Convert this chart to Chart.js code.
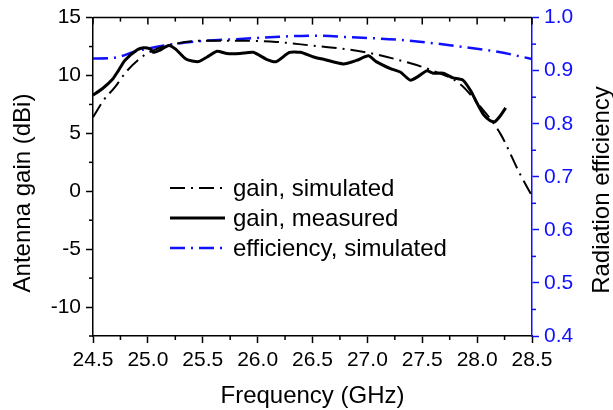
<!DOCTYPE html>
<html>
<head>
<meta charset="utf-8">
<script src="https://cdn.jsdelivr.net/npm/chart.js@4.4.0/dist/chart.umd.min.js"></script>
<style>
html, body { margin: 0; padding: 0; background: #fff; }
#wrap { width: 613px; height: 410px; }
</style>
</head>
<body>
<div id="wrap"><canvas id="graphCanvas"></canvas></div>
<script>
// gain, simulated (dBi)
var simFreq = [24.50, 24.60, 24.70, 24.81, 24.96, 25.08, 25.23, 25.50, 25.87, 26.17, 26.48, 26.69, 26.99, 27.30, 27.60, 27.84, 28.03, 28.21, 28.39, 28.50];
var simGain = [6.4, 7.9, 9.0, 10.4, 11.7, 12.3, 12.7, 13.0, 13.0, 12.9, 12.6, 12.4, 12.0, 11.3, 10.4, 9.3, 7.3, 5.0, 1.5, -0.4];

// gain, measured (dBi)
var measFreq = [24.50, 24.59, 24.68, 24.73, 24.79, 24.90, 24.96, 25.02, 25.05, 25.11, 25.19, 25.25, 25.35, 25.46, 25.54, 25.63, 25.72, 25.84, 25.96, 26.08, 26.17, 26.29, 26.39, 26.51, 26.60, 26.78, 26.90, 27.01, 27.08, 27.21, 27.30, 27.39, 27.46, 27.54, 27.60, 27.69, 27.78, 27.87, 27.94, 28.00, 28.06, 28.12, 28.16, 28.21, 28.26];
var measGain = [8.3, 8.9, 9.7, 10.4, 11.3, 12.2, 12.4, 12.3, 12.0, 12.2, 12.6, 12.3, 11.4, 11.2, 11.6, 12.1, 11.9, 11.9, 12.0, 11.4, 11.2, 12.0, 12.0, 11.6, 11.4, 11.0, 11.3, 11.7, 11.2, 10.6, 10.3, 9.6, 9.9, 10.4, 10.2, 10.2, 9.8, 9.6, 8.7, 7.6, 6.6, 6.1, 6.0, 6.5, 7.2];

// efficiency, simulated
var effFreq = [24.50, 24.68, 24.90, 25.20, 25.50, 25.87, 26.20, 26.50, 26.85, 27.30, 27.75, 28.20, 28.50];
var effVal = [0.923, 0.924, 0.937, 0.949, 0.956, 0.960, 0.964, 0.966, 0.963, 0.958, 0.948, 0.935, 0.922];

// tick values
var xTicks = [24.5, 25.0, 25.5, 26.0, 26.5, 27.0, 27.5, 28.0, 28.5];
var gainTicks = [-10, -5, 0, 5, 10, 15];
var effTicks = [0.4, 0.5, 0.6, 0.7, 0.8, 0.9, 1.0];

var xTitle = 'Frequency (GHz)';
var yTitle = 'Antenna gain (dBi)';
var y1Title = 'Radiation efficiency';

var BLUE = '#1010ff';
var FONT = "'Liberation Sans', Arial, sans-serif";
var DASHDOT = [15, 6, 2, 6];

function pts(xs, ys) {
    var out = [];
    for (var i = 0; i < xs.length; i++) out.push({ x: xs[i], y: ys[i] });
    return out;
}

function fixTicks(list) {
    return function (scale) {
        scale.ticks = list.map(function (v) { return { value: v }; });
    };
}

// minor ticks, mirrored top ticks, top frame line, axis titles, legend
var decorPlugin = {
    id: 'decor',
    afterDraw: function (chart) {
        var ctx = chart.ctx, a = chart.chartArea;
        var x = chart.scales.x, y = chart.scales.y, y1 = chart.scales.y1;
        ctx.save();
        ctx.lineWidth = 1.5;
        ctx.strokeStyle = '#000';
        ctx.beginPath();
        ctx.moveTo(a.left, a.top);
        ctx.lineTo(a.right, a.top);
        ctx.stroke();

        var i, p, v;
        for (i = 0; i < xTicks.length; i++) {
            p = x.getPixelForValue(xTicks[i]);
            ctx.beginPath(); ctx.moveTo(p, a.top); ctx.lineTo(p, a.top + 7); ctx.stroke();
            if (i < xTicks.length - 1) {
                v = x.getPixelForValue((xTicks[i] + xTicks[i + 1]) / 2);
                ctx.beginPath(); ctx.moveTo(v, a.bottom); ctx.lineTo(v, a.bottom + 4); ctx.stroke();
                ctx.beginPath(); ctx.moveTo(v, a.top); ctx.lineTo(v, a.top + 4); ctx.stroke();
            }
        }
        for (v = -12.5; v <= 15; v += 5) {
            p = y.getPixelForValue(v);
            ctx.beginPath(); ctx.moveTo(a.left, p); ctx.lineTo(a.left - 4, p); ctx.stroke();
        }
        ctx.strokeStyle = BLUE;
        for (i = 0; i < effTicks.length - 1; i++) {
            p = y1.getPixelForValue((effTicks[i] + effTicks[i + 1]) / 2);
            ctx.beginPath(); ctx.moveTo(a.right, p); ctx.lineTo(a.right + 4, p); ctx.stroke();
        }

        // axis titles
        ctx.fillStyle = '#000';
        ctx.font = '24px ' + FONT;
        ctx.textAlign = 'center';
        ctx.textBaseline = 'middle';
        ctx.fillText(xTitle, (a.left + a.right) / 2, 396);

        ctx.save();
        ctx.translate(23, 193);
        ctx.rotate(-Math.PI / 2);
        ctx.fillText(yTitle, 0, 0);
        ctx.restore();

        ctx.save();
        ctx.translate(602, 190);
        ctx.rotate(-Math.PI / 2);
        ctx.fillText(y1Title, 0, 0);
        ctx.restore();
        ctx.restore();

        // legend inside the plot
        ctx.save();
        ctx.font = '24px ' + FONT;
        ctx.textBaseline = 'middle';
        var rowY = [188, 218, 248];
        chart.data.datasets.forEach(function (ds, k) {
            ctx.strokeStyle = ds.borderColor;
            ctx.lineWidth = ds.borderWidth;
            ctx.setLineDash(ds.borderDash || []);
            ctx.beginPath();
            ctx.moveTo(170, rowY[k]);
            ctx.lineTo(225, rowY[k]);
            ctx.stroke();
            ctx.fillStyle = '#000';
            ctx.fillText(ds.label, 233, rowY[k] + 1);
        });
        ctx.restore();
    }
};

var chartdata = {
    datasets: [{
        label: 'gain, simulated',
        data: pts(simFreq, simGain),
        borderColor: '#000',
        borderWidth: 2,
        borderDash: DASHDOT,
        cubicInterpolationMode: 'monotone',
        pointRadius: 0,
        yAxisID: 'y'
    }, {
        label: 'gain, measured',
        data: pts(measFreq, measGain),
        borderColor: '#000',
        borderWidth: 3,
        tension: 0.2,
        pointRadius: 0,
        yAxisID: 'y'
    }, {
        label: 'efficiency, simulated',
        data: pts(effFreq, effVal),
        borderColor: BLUE,
        borderWidth: 2.5,
        borderDash: DASHDOT,
        cubicInterpolationMode: 'monotone',
        pointRadius: 0,
        yAxisID: 'y1'
    }]
};

Chart.defaults.font.family = FONT;
Chart.defaults.color = '#000';

new Chart(document.getElementById('graphCanvas'), {
    type: 'line',
    data: chartdata,
    plugins: [decorPlugin],
    options: {
        responsive: true,
        maintainAspectRatio: false,
        animation: false,
        layout: { padding: { top: 17, left: 0, right: 0, bottom: 0 } },
        plugins: { legend: { display: false }, tooltip: { enabled: false } },
        scales: {
            x: {
                type: 'linear',
                min: 24.5,
                max: 28.5,
                afterBuildTicks: fixTicks(xTicks),
                afterFit: function (s) { s.height = 74; },
                grid: { drawOnChartArea: false, tickLength: 7, tickWidth: 1.5, tickColor: '#000' },
                border: { color: '#000', width: 1.5 },
                ticks: {
                    font: { size: 21 },
                    color: '#000',
                    padding: 5,
                    maxRotation: 0,
                    callback: function (v) { return v.toFixed(1); }
                }
            },
            y: {
                position: 'left',
                min: -12.5,
                max: 15,
                afterBuildTicks: fixTicks(gainTicks),
                afterFit: function (s) { s.width = 93; },
                grid: { drawOnChartArea: false, tickLength: 7, tickWidth: 1.5, tickColor: '#000' },
                border: { color: '#000', width: 1.5 },
                ticks: { font: { size: 21 }, color: '#000', padding: 5 }
            },
            y1: {
                position: 'right',
                min: 0.4,
                max: 1.0,
                afterBuildTicks: fixTicks(effTicks),
                afterFit: function (s) { s.width = 81; },
                grid: { drawOnChartArea: false, tickLength: 7, tickWidth: 1.5, tickColor: BLUE },
                border: { color: BLUE, width: 1.5 },
                ticks: {
                    font: { size: 21 },
                    color: BLUE,
                    padding: 5,
                    callback: function (v) { return v.toFixed(1); }
                }
            }
        }
    }
});
</script>
</body>
</html>
